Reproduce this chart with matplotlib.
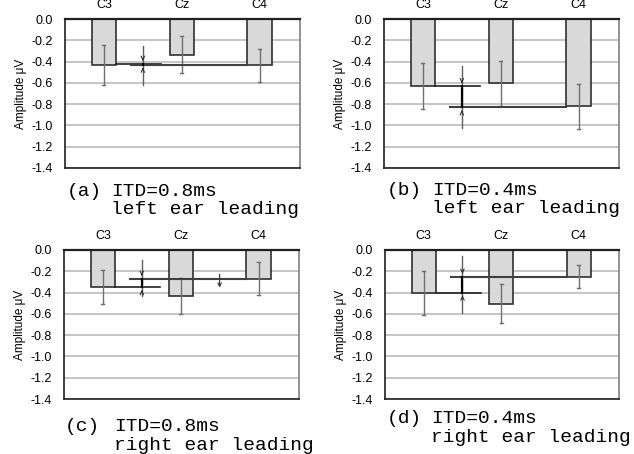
import matplotlib
matplotlib.use("Agg")
import matplotlib.pyplot as plt

OUT_FILE = "out.png"

electrodes = ["C3", "Cz", "C4"]
yticks = [0.0, -0.2, -0.4, -0.6, -0.8, -1.0, -1.2, -1.4]

# (a) ITD=0.8ms left ear leading
a_vals = [-0.43, -0.34, -0.43]
a_err_hi = [-0.24, -0.16, -0.28]
a_err_lo = [-0.62, -0.51, -0.59]
a_mid = [-0.25, -0.62]
a_levels = [-0.42, -0.43]

# (b) ITD=0.4ms left ear leading
b_vals = [-0.63, -0.60, -0.82]
b_err_hi = [-0.41, -0.39, -0.61]
b_err_lo = [-0.85, -0.82, -1.03]
b_mid = [-0.44, -1.02]
b_levels = [-0.63, -0.83]

# (c) ITD=0.8ms right ear leading
c_vals = [-0.35, -0.43, -0.27]
c_err_hi = [-0.19, -0.26, -0.11]
c_err_lo = [-0.51, -0.60, -0.42]
c_mid = [-0.09, -0.43]
c_levels = [-0.35, -0.27]
c_extra = [-0.20, -0.38]

# (d) ITD=0.4ms right ear leading
d_vals = [-0.40, -0.51, -0.25]
d_err_hi = [-0.20, -0.32, -0.14]
d_err_lo = [-0.61, -0.69, -0.36]
d_mid = [-0.06, -0.59]
d_levels = [-0.40, -0.25]

W, H = 634, 454
BW = 0.31


def px_axes(fig, l, r, t, b):
    return fig.add_axes([l / W, (H - b) / H, (r - l) / W, (b - t) / H])


def draw_panel(ax, vals, hi, lo, mid, levels, extra=None):
    x = list(range(len(electrodes)))
    ax.set_xlim(-0.5, 2.52)
    ax.set_ylim(-1.4, 0.0)
    ax.set_yticks(yticks)
    ax.set_yticklabels([f"{t:.1f}" for t in yticks], fontsize=9, family="Liberation Sans")
    ax.set_xticks(x)
    ax.set_xticklabels(electrodes, fontsize=9, family="Liberation Sans")
    ax.xaxis.tick_top()
    ax.tick_params(axis="both", length=0)
    ax.tick_params(axis="y", pad=9)
    ax.tick_params(axis="x", pad=6)
    ax.grid(axis="y", color="#c0c0c0", lw=1.3, zorder=0)
    ax.set_axisbelow(True)
    ax.set_ylabel("Amplitude μV", fontsize=8.5, family="Liberation Sans", labelpad=3)
    for s in ["left", "bottom", "top"]:
        ax.spines[s].set_color("#202020")
        ax.spines[s].set_linewidth(1.2)
    ax.spines["top"].set_linewidth(1.6)
    ax.spines["right"].set_color("#808080")
    ax.spines["right"].set_linewidth(1.2)

    ax.bar(x, vals, width=BW, color="#d9d9d9", edgecolor="#303030", lw=1.2, zorder=2)
    for xi, h, l in zip(x, hi, lo):
        ax.plot([xi, xi], [l, h], color="#707070", lw=1.0, zorder=3)
        ax.plot([xi - 0.02, xi + 0.02], [h, h], color="#707070", lw=1.0, zorder=3)
        ax.plot([xi - 0.02, xi + 0.02], [l, l], color="#707070", lw=1.0, zorder=3)

    # level lines of C3 and C4
    ax.plot([x[0] + BW / 2, 0.74], [levels[0], levels[0]], color="#202020", lw=1.2, zorder=4)
    ax.plot([0.35, x[2] - BW / 2], [levels[1], levels[1]], color="#404040", lw=1.5, zorder=4)

    # middle range and arrows
    xm = 0.5
    ax.plot([xm, xm], mid, color="#606060", lw=1.0, zorder=4)
    ax.plot([xm, xm], levels, color="black", lw=1.6, zorder=5)
    top, bot = max(levels), min(levels)
    aprops = dict(arrowstyle="->,head_length=0.25,head_width=0.12", color="#303030", lw=0.8)
    ax.annotate("", xy=(xm, top), xytext=(xm, top + 0.07), arrowprops=aprops, zorder=6)
    ax.annotate("", xy=(xm, bot), xytext=(xm, bot - 0.07), arrowprops=aprops, zorder=6)
    if extra is not None:
        ax.annotate("", xy=(1.5, extra[1]), xytext=(1.5, extra[0]), arrowprops=aprops, zorder=6)


def caption(fig, tag, x_tag, x_txt, y1, y2, line1, line2):
    kw = dict(fontsize=14, family="Liberation Mono", va="baseline", ha="left")
    fig.text(x_tag / W, (H - y1) / H, tag, **kw)
    fig.text(x_txt / W, (H - y1) / H, line1, **kw)
    fig.text(x_txt / W, (H - y2) / H, line2, **kw)


def main():
    fig = plt.figure(figsize=(W / 100, H / 100), dpi=100)

    ax_a = px_axes(fig, 65, 300, 19, 168)
    ax_b = px_axes(fig, 384, 619, 19, 168)
    ax_c = px_axes(fig, 64, 299, 250, 399)
    ax_d = px_axes(fig, 385, 619, 250, 399)

    draw_panel(ax_a, a_vals, a_err_hi, a_err_lo, a_mid, a_levels)
    draw_panel(ax_b, b_vals, b_err_hi, b_err_lo, b_mid, b_levels)
    draw_panel(ax_c, c_vals, c_err_hi, c_err_lo, c_mid, c_levels, extra=c_extra)
    draw_panel(ax_d, d_vals, d_err_hi, d_err_lo, d_mid, d_levels)

    caption(fig, "(a)", 67, 111, 196, 214, "ITD=0.8ms", "left ear leading")
    caption(fig, "(b)", 387, 432, 195, 213, "ITD=0.4ms", "left ear leading")
    caption(fig, "(c)", 65, 114, 431, 450, "ITD=0.8ms", "right ear leading")
    caption(fig, "(d)", 387, 431, 423, 442, "ITD=0.4ms", "right ear leading")

    fig.savefig(OUT_FILE, dpi=100)


if __name__ == "__main__":
    main()
